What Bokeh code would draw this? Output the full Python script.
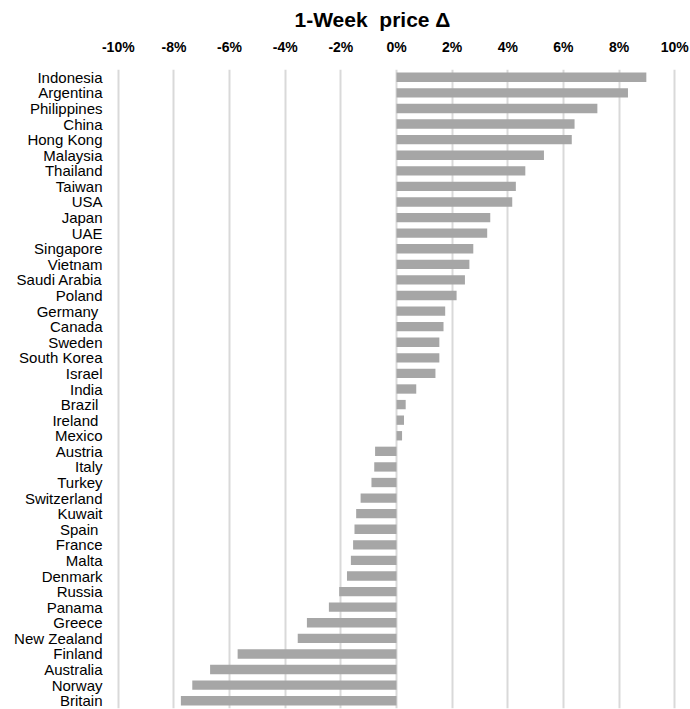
from bokeh.plotting import figure
from bokeh.models import FixedTicker, PrintfTickFormatter, Range1d, FactorRange
from bokeh.embed import file_html
from bokeh.resources import INLINE

countries = ["Indonesia", "Argentina", "Philippines", "China", "Hong Kong", "Malaysia",
             "Thailand", "Taiwan", "USA", "Japan", "UAE", "Singapore", "Vietnam",
             "Saudi Arabia", "Poland", "Germany ", "Canada", "Sweden", "South Korea",
             "Israel", "India", "Brazil ", "Ireland ", "Mexico", "Austria", "Italy",
             "Turkey", "Switzerland", "Kuwait", "Spain ", "France", "Malta", "Denmark",
             "Russia", "Panama", "Greece", "New Zealand", "Finland", "Australia",
             "Norway", "Britain"]
change_pct = [8.98, 8.32, 7.22, 6.40, 6.30, 5.30, 4.63, 4.29, 4.16, 3.37, 3.26, 2.76,
              2.62, 2.46, 2.16, 1.75, 1.69, 1.54, 1.54, 1.40, 0.71, 0.33, 0.27, 0.20,
              -0.77, -0.80, -0.90, -1.29, -1.45, -1.51, -1.56, -1.64, -1.78, -2.06,
              -2.43, -3.22, -3.55, -5.71, -6.70, -7.34, -7.75]
tick_values = [-10, -8, -6, -4, -2, 0, 2, 4, 6, 8, 10]
title_text = "1-Week\u00a0 price \u0394"

p = figure(width=690, height=709, output_backend="svg", toolbar_location=None,
           y_range=FactorRange(*list(reversed(countries)), range_padding=0),
           x_range=Range1d(-10.1, 10.1), x_axis_location="above",
           min_border_left=115, min_border_right=13, min_border_top=0, min_border_bottom=1,
           title=title_text)

p.hbar(y=countries, right=change_pct, left=0, height=0.6, color="#a6a6a6", line_color=None)

p.outline_line_color = None
p.background_fill_color = "white"
p.border_fill_color = "white"

p.title.text_font = "Liberation Sans"
p.title.text_font_size = "21px"
p.title.text_font_style = "bold"
p.title.align = "left"
p.title.offset = 179
p.title.standoff = 10
p.title.text_color = "#000000"

xa = p.xaxis[0]
xa.ticker = FixedTicker(ticks=tick_values)
xa.formatter = PrintfTickFormatter(format="%d%%")
xa.axis_line_color = None
xa.major_tick_line_color = None
xa.minor_tick_line_color = None
xa.major_label_text_font = "Liberation Sans"
xa.major_label_text_font_style = "bold"
xa.major_label_text_font_size = "14px"
xa.major_label_text_color = "#000000"
xa.major_label_standoff = 9

ya = p.yaxis[0]
ya.axis_line_color = None
ya.major_tick_line_color = None
ya.minor_tick_line_color = None
ya.major_label_text_font = "Liberation Sans"
ya.major_label_text_font_size = "15px"
ya.major_label_text_color = "#000000"
ya.major_label_standoff = 7

p.xgrid.ticker = FixedTicker(ticks=tick_values)
p.xgrid.grid_line_color = "#d9d9d9"
p.xgrid.grid_line_width = 2
p.ygrid.grid_line_color = None

open("out.html", "w").write(file_html(p, INLINE))
